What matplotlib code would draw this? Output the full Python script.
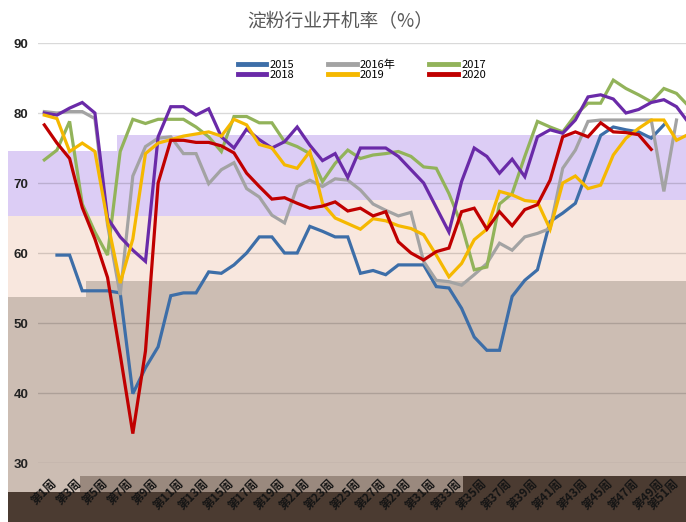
import numpy as np
import matplotlib
matplotlib.use('Agg')
import matplotlib.pyplot as plt
from matplotlib.patches import Rectangle
from matplotlib.transforms import ScaledTranslation

W, H = 686, 522
nan = np.nan

weeks = np.arange(1, 53)
week_labels = [f'第{w}周' for w in weeks]

y2015 = [nan, 59.7, 59.7, 54.6, 54.6, 54.6, 54.3, 39.9, 43.6, 46.6, 53.9, 54.3, 54.3,
         57.3, 57.1, 58.3, 60.0, 62.3, 62.3, 60.0, 60.0, 63.8, 63.1, 62.3, 62.3, 57.1,
         57.5, 56.9, 58.3, 58.3, 58.3, 55.2, 55.0, 52.1, 48.0, 46.1, 46.1, 53.8, 56.1,
         57.6, 64.5, 65.7, 67.1, 72.0, 76.8, 78.0, 77.6, 77.3, 76.4, 78.3, nan, nan]
y2016 = [80.2, 80.0, 80.2, 80.2, 79.2, 64.0, 54.0, 71.0, 75.2, 76.4, 76.6, 74.2, 74.2,
         69.9, 71.9, 72.9, 69.2, 68.0, 65.4, 64.3, 69.5, 70.4, 69.5, 70.6, 70.4, 69.0,
         67.0, 66.1, 65.3, 65.8, 58.8, 56.1, 55.9, 55.4, 56.9, 58.5, 61.4, 60.4, 62.3,
         62.8, 63.5, 72.1, 74.7, 78.8, 79.0, 79.0, 79.0, 79.0, 79.0, 68.8, 79.0, nan]
y2017 = [73.3, 74.7, 78.8, 67.0, 63.0, 59.7, 74.5, 79.1, 78.5, 79.1, 79.1, 79.1, 78.0,
         76.6, 74.5, 79.5, 79.5, 78.6, 78.6, 75.9, 75.2, 74.2, 70.2, 72.8, 74.7, 73.5,
         74.0, 74.2, 74.5, 73.8, 72.3, 72.1, 68.5, 64.0, 57.6, 58.0, 67.0, 68.5, 73.8,
         78.8, 78.0, 77.3, 79.7, 81.4, 81.4, 84.7, 83.5, 82.6, 81.6, 83.5, 82.8, 80.9]
y2018 = [80.0, 79.7, 80.7, 81.5, 80.0, 65.0, 62.3, 60.4, 58.8, 76.6, 80.9, 80.9, 79.7,
         80.6, 76.6, 75.0, 77.7, 76.2, 75.0, 75.9, 78.0, 75.4, 73.2, 74.2, 70.8, 75.0,
         75.0, 75.0, 73.8, 71.9, 70.0, 66.5, 63.0, 70.2, 75.0, 73.8, 71.4, 73.4, 70.9,
         76.6, 77.6, 77.1, 79.0, 82.3, 82.6, 82.0, 80.0, 80.5, 81.5, 81.9, 80.9, 78.5]
y2019 = [79.7, 79.2, 74.5, 75.7, 74.5, 64.5, 55.7, 62.0, 74.2, 75.7, 76.2, 76.7, 77.0,
         77.3, 76.7, 79.1, 78.3, 75.5, 75.0, 72.6, 72.1, 74.5, 67.1, 65.0, 64.2, 63.4,
         64.9, 64.6, 63.9, 63.5, 62.6, 59.7, 56.6, 58.5, 61.9, 63.4, 68.8, 68.3, 67.5,
         67.3, 63.4, 70.0, 71.0, 69.2, 69.7, 74.0, 76.4, 77.8, 79.0, 79.0, 76.1, 77.0]
y2020 = [78.3, 75.7, 73.5, 66.5, 62.0, 56.5, 45.5, 34.2, 46.0, 70.0, 76.1, 76.1, 75.8,
         75.8, 75.3, 74.3, 71.4, 69.5, 67.7, 67.9, 67.1, 66.4, 66.7, 67.3, 66.0, 66.4,
         65.3, 65.9, 61.6, 60.0, 59.0, 60.2, 60.7, 65.9, 66.4, 63.4, 65.9, 63.9, 66.2,
         66.9, 70.4, 76.6, 77.3, 76.6, 78.6, 77.3, 77.2, 76.9, 74.8, nan, nan, nan]

series = [
    ('2015', y2015, '#3d6ea8'),
    ('2016年', y2016, '#a3a3a3'),
    ('2017', y2017, '#92b35a'),
    ('2018', y2018, '#6a2aa8'),
    ('2019', y2019, '#f5b800'),
    ('2020', y2020, '#c00000'),
]

# background strips, pixel boxes (x0, y0, x1, y1) from the top left
TAUPE = '#ccbdb3'
PEACH = '#f8e7de'
LAVENDER = '#dccdf5'
MID = '#9a897e'
DARK = '#4b3b31'
strips = [
    ((8, 281, 686, 476), TAUPE),
    ((8, 476, 80, 492), TAUPE),
    ((80, 476, 463, 492), MID),
    ((8, 492, 686, 522), DARK),
    ((463, 476, 686, 492), DARK),
    ((8, 216, 86, 297), PEACH),
    ((86, 216, 340, 281), PEACH),
    ((340, 200, 686, 281), PEACH),
    ((8, 151, 117, 216), LAVENDER),
    ((117, 135, 340, 216), LAVENDER),
    ((340, 135, 686, 200), LAVENDER),
]

fig = plt.figure(figsize=(W / 100, H / 100), dpi=100, facecolor='white')
for (x0, y0, x1, y1), c in strips:
    fig.add_artist(Rectangle((x0 / W, 1 - y1 / H), (x1 - x0) / W, (y1 - y0) / H,
                             transform=fig.transFigure, facecolor=c, lw=0, zorder=-5))

ax = fig.add_axes([38 / W, 1 - 463 / H, 1 - 38 / W, 420 / H])
ax.patch.set_visible(False)

for name, vals, color in series:
    ax.plot(weeks, vals, color=color, lw=2.3, label=name, solid_joinstyle='miter')

ax.set_xlim(0.5, 51.75)
ax.set_ylim(30, 90)
ax.set_yticks(range(30, 91, 10))
ax.yaxis.grid(True, color='black', alpha=0.15, lw=1)
ax.set_axisbelow(True)
for s in ax.spines.values():
    s.set_visible(False)
ax.tick_params(length=0)
ax.tick_params(axis='y', pad=7, labelcolor='#222222')
for lab in ax.get_yticklabels():
    lab.set_fontfamily('Liberation Sans')
    lab.set_fontweight('bold')
    lab.set_fontsize(9.5)

odd = weeks[::2]
ax.set_xticks(odd)
ax.set_xticklabels([week_labels[w - 1] for w in odd], rotation=45, ha='right', va='top',
                   rotation_mode='anchor', fontsize=8.5, fontweight='bold',
                   family=['Noto Sans CJK SC', 'DejaVu Sans'], color='#151515')
ax.tick_params(axis='x', pad=10)
xlabs = ax.get_xticklabels()
for i, lab in enumerate(xlabs):
    dx = 6 if i < len(xlabs) - 1 else -4   # keep the last one inside the frame
    lab.set_transform(lab.get_transform() + ScaledTranslation(dx / 100, 0, fig.dpi_scale_trans))

fig.text(340 / W, 1 - 22 / H, '淀粉行业开机率（%）', ha='center', va='center',
         fontsize=13.5, color='#595959', family=['Noto Sans CJK SC', 'DejaVu Sans'])

h, l = ax.get_legend_handles_labels()
order = [0, 3, 1, 4, 2, 5]
leg = fig.legend([h[i] for i in order], [l[i] for i in order], ncol=3,
                 loc='upper left', bbox_to_anchor=(232 / W, 1 - 54 / H),
                 frameon=False, handlelength=2.6, handletextpad=0.3,
                 columnspacing=3.0, labelspacing=0.0, borderpad=0,
                 prop={'family': ['Noto Sans CJK SC', 'DejaVu Sans'], 'size': 8})
for ln in leg.get_lines():
    ln.set_linewidth(3.5)

fig.savefig('out.png', dpi=100, facecolor='white')
